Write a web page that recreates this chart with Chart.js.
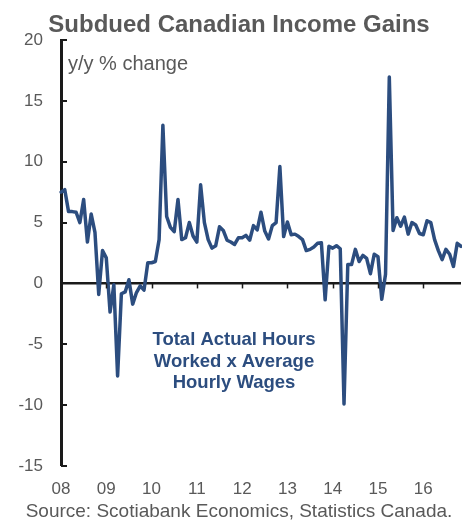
<!DOCTYPE html>
<html>
<head>
<meta charset="utf-8">
<script src="https://cdn.jsdelivr.net/npm/chart.js@4/dist/chart.umd.min.js"></script>
<style>
  html, body { margin: 0; padding: 0; background: #ffffff; }
  #wrap { width: 462px; height: 520px; position: relative; }
</style>
</head>
<body>
<div id="wrap"><canvas id="c" width="462" height="520"></canvas></div>
<script>
// ---- Data (monthly, Jan 2008 – Nov 2016) ----
const titleText = 'Subdued Canadian Income Gains';
const unitText = 'y/y % change';
const seriesLabel = ['Total Actual Hours', 'Worked x Average', 'Hourly Wages'];
const sourceText = 'Source: Scotiabank Economics, Statistics Canada.';

const yearLabels = ['08', '09', '10', '11', '12', '13', '14', '15', '16'];
const monthNames = ['Jan','Feb','Mar','Apr','May','Jun','Jul','Aug','Sep','Oct','Nov','Dec'];

const incomeGrowth = [
  7.5, 7.7, 5.9, 5.9, 5.85, 5.0, 6.9, 3.4, 5.7, 4.2, -0.9, 2.7,        // 2008
  2.1, -2.35, -0.1, -7.6, -0.85, -0.7, 0.3, -1.7, -0.75, -0.2, -0.55, 1.7, // 2009
  1.7, 1.8, 3.6, 13.0, 5.5, 4.6, 4.25, 6.9, 3.6, 3.75, 5.0, 3.9,       // 2010
  3.4, 8.1, 5.0, 3.6, 2.9, 3.1, 4.65, 4.35, 3.55, 3.4, 3.2, 3.75,      // 2011
  3.75, 3.95, 3.55, 4.75, 4.4, 5.85, 4.3, 3.65, 4.75, 5.0, 9.6, 3.85,  // 2012
  5.05, 4.0, 4.05, 3.85, 3.6, 2.7, 2.8, 3.0, 3.3, 3.35, -1.35, 3.05,   // 2013
  2.9, 3.1, 2.85, -9.9, 1.55, 1.55, 2.8, 1.8, 2.3, 2.05, 0.8, 2.4,     // 2014
  2.2, -1.3, 0.75, 16.95, 4.35, 5.4, 4.7, 5.45, 4.05, 5.0, 4.8, 4.1,   // 2015
  4.0, 5.15, 5.0, 3.6, 2.7, 1.95, 2.8, 2.4, 1.4, 3.3, 3.05             // 2016 (to Nov)
];

const yTicks = [-15, -10, -5, 0, 5, 10, 15, 20];

// category labels: one per month
const months = [];
for (let i = 0; i < incomeGrowth.length; i++) {
  months.push(monthNames[i % 12] + ' ' + (2008 + Math.floor(i / 12)));
}

// ---- Styles ----
const FONT = '"Liberation Sans", Arial, sans-serif';
const GRAY = '#595959';
const LINE = '#2C4D7F';
const AXIS = '#1a1a1a';

const decorPlugin = {
  id: 'decor',
  afterDraw(chart) {
    const ctx = chart.ctx;
    const xs = chart.scales.x, ys = chart.scales.y;
    const area = chart.chartArea;
    ctx.save();
    // inward y-axis tick marks
    ctx.strokeStyle = AXIS;
    ctx.lineWidth = 2;
    yTicks.forEach(v => {
      const y = Math.round(ys.getPixelForValue(v));
      ctx.beginPath();
      ctx.moveTo(area.left, y);
      ctx.lineTo(area.left + 6, y);
      ctx.stroke();
    });
    // year tick marks on the zero line
    const y0 = ys.getPixelForValue(0);
    ctx.lineWidth = 1.5;
    for (let k = 1; k < yearLabels.length; k++) {
      const x = Math.round(xs.getPixelForValue(k * 12)) + 0.5;
      ctx.beginPath();
      ctx.moveTo(x, y0);
      ctx.lineTo(x, y0 + 5);
      ctx.stroke();
    }
    // title
    ctx.fillStyle = GRAY;
    ctx.textBaseline = 'alphabetic';
    ctx.textAlign = 'center';
    ctx.font = 'bold 24px ' + FONT;
    ctx.fillText(titleText, 239, 32);
    // unit label
    ctx.textAlign = 'left';
    ctx.font = '20px ' + FONT;
    ctx.fillText(unitText, 68, 70);
    // series annotation
    ctx.fillStyle = LINE;
    ctx.textAlign = 'center';
    ctx.font = 'bold 18.5px ' + FONT;
    const baselines = [345, 367, 388];
    seriesLabel.forEach((t, i) => ctx.fillText(t, 234, baselines[i]));
    // source
    ctx.fillStyle = GRAY;
    ctx.font = '19px ' + FONT;
    ctx.fillText(sourceText, 239, 517);
    ctx.restore();
  }
};

new Chart(document.getElementById('c'), {
  type: 'line',
  data: {
    labels: months,
    datasets: [{
      data: incomeGrowth,
      borderColor: LINE,
      borderWidth: 3.5,
      pointRadius: 0,
      tension: 0,
      borderJoinStyle: 'round',
      borderCapStyle: 'round',
      fill: false
    }]
  },
  options: {
    responsive: false,
    devicePixelRatio: 1,
    animation: false,
    layout: { padding: { top: 40, left: 0, right: 1, bottom: 24 } },
    plugins: { legend: { display: false }, tooltip: { enabled: false }, title: { display: false } },
    scales: {
      x: {
        type: 'category',
        offset: false,
        grid: { display: false, drawTicks: false },
        border: { display: false },
        ticks: {
          autoSkip: false,
          maxRotation: 0,
          minRotation: 0,
          padding: 13,
          color: GRAY,
          font: { family: FONT, size: 17 },
          callback: (val, idx) => (idx % 12 === 0 ? yearLabels[idx / 12] : null)
        },
        afterFit: s => { s.height = 30; }
      },
      y: {
        min: -15,
        max: 20,
        grid: {
          drawTicks: false,
          color: c => (c.tick && c.tick.value === 0 ? AXIS : 'rgba(0,0,0,0)'),
          lineWidth: c => (c.tick && c.tick.value === 0 ? 2.5 : 0)
        },
        border: { display: true, color: AXIS, width: 3 },
        ticks: {
          stepSize: 5,
          padding: 18,
          color: GRAY,
          font: { family: FONT, size: 17 }
        },
        afterFit: s => { s.width = 61; }
      }
    }
  },
  plugins: [decorPlugin]
});
</script>
</body>
</html>
